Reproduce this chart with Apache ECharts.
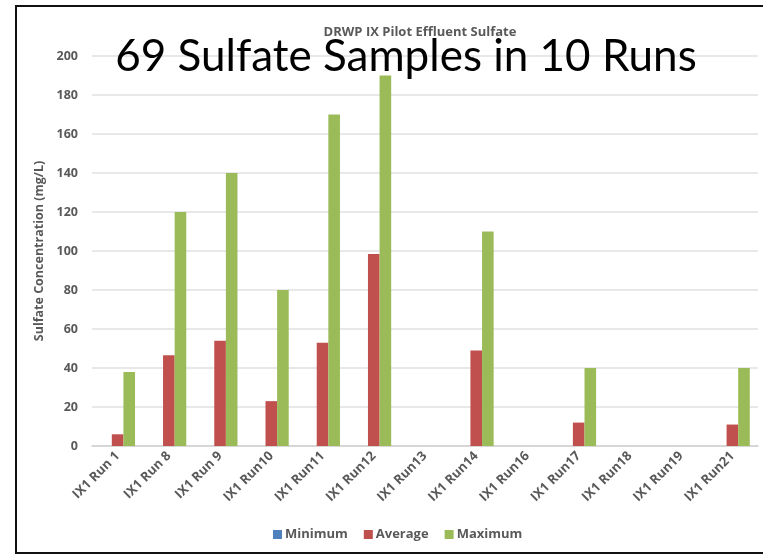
<!DOCTYPE html>
<html>
<head>
<meta charset="utf-8">
<script src="https://cdn.jsdelivr.net/npm/echarts@6/dist/echarts.min.js"></script>
<style>
  html, body { margin: 0; padding: 0; background: #fff; }
  #frame { position: absolute; left: 15px; top: 5px; width: 800px; height: 545px; border: 2px solid #111; }
  #chart { position: absolute; left: 0; top: 0; width: 763px; height: 555px; }
</style>
</head>
<body>
<div id="frame"></div>
<div id="chart"></div>
<script>
"use strict";

// runs on the x axis
const runs = ['IX1 Run 1', 'IX1 Run 8', 'IX1 Run 9', 'IX1 Run10', 'IX1 Run11', 'IX1 Run12', 'IX1 Run13',
  'IX1 Run14', 'IX1 Run16', 'IX1 Run17', 'IX1 Run18', 'IX1 Run19', 'IX1 Run21'];
// sulfate (mg/L)
const minimum = [0, 0, 0, 0, 0, 0, null, 0, null, 0, null, null, 0];
const average = [6, 46.5, 54, 23, 53, 98.5, null, 49, null, 12, null, null, 11];
const maximum = [38, 120, 140, 80, 170, 190, null, 110, null, 40, null, null, 40];
const yTicks = [0, 20, 40, 60, 80, 100, 120, 140, 160, 180, 200];

const gray = '#595959';
const font = 'Open Sans';

var chart = echarts.init(document.getElementById('chart'));

chart.setOption({
  animation: false,
  textStyle: { fontFamily: font },
  title: [{
    text: 'DRWP IX Pilot Effluent Sulfate',
    left: 415,
    top: 21,
    textAlign: 'center',
    textStyle: { fontSize: 13, fontWeight: 'bold', color: gray, fontFamily: font }
  }, {
    text: '69 Sulfate Samples in 10 Runs',
    left: 401,
    top: 30,
    textAlign: 'center',
    textStyle: { fontSize: 44, fontWeight: 'normal', color: '#000', fontFamily: 'Lato' }
  }],
  legend: {
    bottom: 9,
    left: 268,
    itemWidth: 9,
    itemHeight: 9,
    itemGap: 16,
    icon: 'rect',
    textStyle: { fontSize: 13, fontWeight: 'bold', color: gray, padding: [0, 0, 0, -2] },
    data: ['Minimum', 'Average', 'Maximum']
  },
  grid: { left: 92, right: 5, top: 56, bottom: 109 },
  xAxis: {
    type: 'category',
    data: runs,
    axisTick: { show: false },
    axisLine: { lineStyle: { color: '#d0d0d0', width: 1.5 } },
    axisLabel: { rotate: 45, fontSize: 13, fontWeight: 'bold', color: gray, margin: 8, interval: 0 }
  },
  yAxis: {
    type: 'value',
    min: yTicks[0],
    max: yTicks[yTicks.length - 1],
    interval: 20,
    name: 'Sulfate Concentration (mg/L)',
    nameLocation: 'middle',
    nameGap: 46,
    nameTextStyle: { fontSize: 12.5, fontWeight: 'bold', color: gray },
    axisLine: { show: false },
    axisTick: { show: false },
    axisLabel: { fontSize: 12.5, fontWeight: 'bold', color: gray, margin: 14 },
    splitLine: { lineStyle: { color: '#e0e0e0', width: 1.5 } }
  },
  series: [{
    name: 'Minimum',
    type: 'bar',
    data: minimum,
    color: '#4F81BD',
    barGap: '0%',
    barCategoryGap: '32%'
  }, {
    name: 'Average',
    type: 'bar',
    data: average,
    color: '#C0504D'
  }, {
    name: 'Maximum',
    type: 'bar',
    data: maximum,
    color: '#9BBB59'
  }]
});
</script>
</body>
</html>
